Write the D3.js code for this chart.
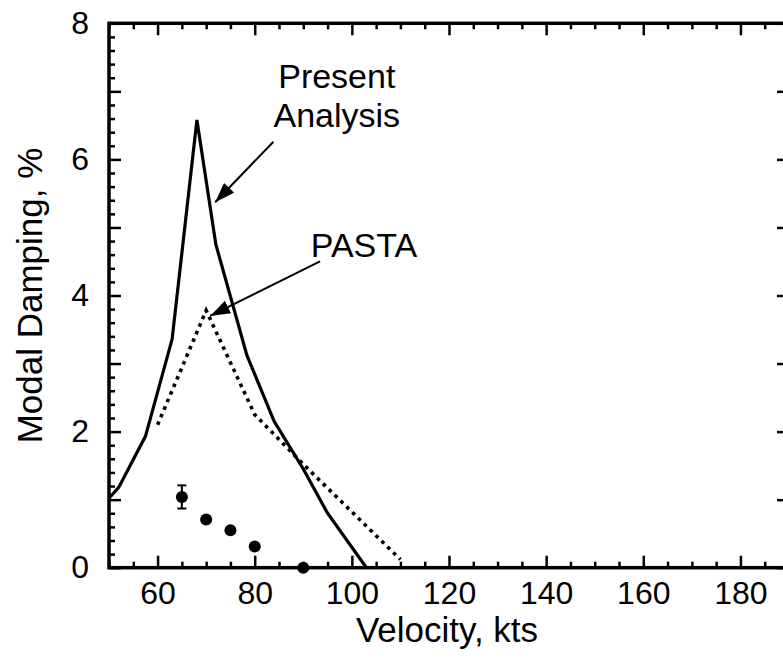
<!DOCTYPE html>
<html>
<head>
<meta charset="utf-8">
<script src="https://cdn.jsdelivr.net/npm/d3@7"></script>
<style>
  html, body { margin: 0; padding: 0; background: #fff; }
  svg { display: block; font-family: "Liberation Sans", Arial, Helvetica, sans-serif; }
</style>
</head>
<body>
<svg id="chart" width="783" height="658"></svg>
<script>
// ---- data ----
const presentVelocity = [50, 52, 57.5, 63, 68.1, 72, 78.4, 84, 90, 95, 103];
const presentDamping  = [1.02, 1.18, 1.93, 3.36, 6.58, 4.75, 3.12, 2.15, 1.45, 0.8, 0];
const pastaVelocity   = [60, 70, 80, 90, 110];
const pastaDamping    = [2.1, 3.78, 2.25, 1.52, 0.12];
const testVelocity    = [65, 70, 75, 80, 90];
const testDamping     = [1.04, 0.71, 0.55, 0.31, 0.0];
const testError       = [0.17, 0, 0, 0, 0];
const xTickLabels     = [60, 80, 100, 120, 140, 160, 180];
const yTickLabels     = [0, 2, 4, 6, 8];
const annotations = [
  { lines: ["Present", "Analysis"], x: 96.9, y: 7.045, from: [83.85, 6.26], to: [71.86, 5.37] },
  { lines: ["PASTA"], x: 102.5, y: 4.57, from: [93.45, 4.50], to: [70.83, 3.70] }
];

// ---- layout ----
const svg = d3.select("#chart");
const x = d3.scaleLinear().domain([50, 190]).range([109, 789]);
const y = d3.scaleLinear().domain([0, 8]).range([567.7, 23.3]);

const major = 12, minor = 6;
const xMinor = d3.range(50, 190.001, 5).filter(v => v % 20 !== 0);
const xMajor = d3.range(60, 190, 20);
const yMinor = d3.range(0, 41).map(i => i * 0.2).filter(v => Math.abs(v - Math.round(v)) > 1e-6);
const yMajor = d3.range(0, 9);

function styleAxis(g) {
  g.select(".domain").remove();
  g.selectAll(".tick line").attr("stroke", "#000").attr("stroke-width", 2.5);
  g.selectAll(".tick text").attr("fill", "#000");
}

// bottom axis
svg.append("g").attr("transform", `translate(0,${y(0)})`)
  .call(d3.axisBottom(x).tickValues(xMinor).tickSizeInner(-minor).tickSizeOuter(0).tickFormat(""))
  .call(styleAxis);
svg.append("g").attr("transform", `translate(0,${y(0)})`)
  .call(d3.axisBottom(x).tickValues(xMajor).tickSizeInner(-major).tickSizeOuter(0).tickPadding(14).tickFormat(d3.format("d")))
  .call(styleAxis)
  .call(g => g.selectAll(".tick").filter(d => !xTickLabels.includes(d)).select("text").remove())
  .call(g => g.selectAll("text").attr("font-size", 32).attr("font-family", null));
// top axis
svg.append("g").attr("transform", `translate(0,${y(8)})`)
  .call(d3.axisTop(x).tickValues(xMinor).tickSizeInner(-minor).tickSizeOuter(0).tickFormat(""))
  .call(styleAxis);
svg.append("g").attr("transform", `translate(0,${y(8)})`)
  .call(d3.axisTop(x).tickValues(xMajor).tickSizeInner(-major).tickSizeOuter(0).tickFormat(""))
  .call(styleAxis);
// left axis
svg.append("g").attr("transform", `translate(${x(50)},0)`)
  .call(d3.axisLeft(y).tickValues(yMinor).tickSizeInner(-minor).tickSizeOuter(0).tickFormat(""))
  .call(styleAxis);
svg.append("g").attr("transform", `translate(${x(50)},0)`)
  .call(d3.axisLeft(y).tickValues(yMajor).tickSizeInner(-major).tickSizeOuter(0).tickPadding(20).tickFormat(d3.format("d")))
  .call(styleAxis)
  .call(g => g.selectAll(".tick").filter(d => !yTickLabels.includes(d)).select("text").remove())
  .call(g => g.selectAll("text").attr("font-size", 32).attr("font-family", null));
// right axis
svg.append("g").attr("transform", `translate(${x(190)},0)`)
  .call(d3.axisRight(y).tickValues(yMinor).tickSizeInner(-minor).tickSizeOuter(0).tickFormat(""))
  .call(styleAxis);
svg.append("g").attr("transform", `translate(${x(190)},0)`)
  .call(d3.axisRight(y).tickValues(yMajor).tickSizeInner(-major).tickSizeOuter(0).tickFormat(""))
  .call(styleAxis);

// frame
svg.append("rect")
  .attr("x", x(50)).attr("y", y(8))
  .attr("width", x(190) - x(50)).attr("height", y(0) - y(8))
  .attr("fill", "none").attr("stroke", "#000").attr("stroke-width", 3.5);

// axis titles
svg.append("text").attr("x", (x(50) + x(190)) / 2 - 2).attr("y", 642)
  .attr("text-anchor", "middle").attr("font-size", 35).text("Velocity, kts");
svg.append("text").attr("transform", `translate(42,${(y(0) + y(8)) / 2}) rotate(-90)`)
  .attr("text-anchor", "middle").attr("font-size", 35).text("Modal Damping, %");

// lines
const line = d3.line().x(d => x(d[0])).y(d => y(d[1]));

svg.append("path")
  .datum(presentVelocity.map((v, i) => [v, presentDamping[i]]))
  .attr("d", line).attr("fill", "none").attr("stroke", "#000")
  .attr("stroke-width", 3.2).attr("stroke-linejoin", "miter");

svg.append("path")
  .datum(pastaVelocity.map((v, i) => [v, pastaDamping[i]]))
  .attr("d", line).attr("fill", "none").attr("stroke", "#000")
  .attr("stroke-width", 3.6).attr("stroke-dasharray", "3.6,4.6");

// test data points with error bars
const pts = testVelocity.map((v, i) => ({ v, d: testDamping[i], e: testError[i] }));
const eb = svg.append("g");
pts.filter(p => p.e > 0).forEach(p => {
  eb.append("line").attr("x1", x(p.v)).attr("x2", x(p.v)).attr("y1", y(p.d - p.e)).attr("y2", y(p.d + p.e))
    .attr("stroke", "#000").attr("stroke-width", 2);
  [p.d - p.e, p.d + p.e].forEach(val => {
    eb.append("line").attr("x1", x(p.v) - 4.5).attr("x2", x(p.v) + 4.5).attr("y1", y(val)).attr("y2", y(val))
      .attr("stroke", "#000").attr("stroke-width", 2);
  });
});
svg.append("g").selectAll("circle").data(pts).join("circle")
  .attr("cx", p => x(p.v)).attr("cy", p => y(p.d)).attr("r", 6).attr("fill", "#000");

// annotations
svg.append("defs").append("marker").attr("id", "arrowhead")
  .attr("viewBox", "0 0 20 14").attr("refX", 20).attr("refY", 7)
  .attr("markerWidth", 20).attr("markerHeight", 14).attr("markerUnits", "userSpaceOnUse")
  .attr("orient", "auto")
  .append("path").attr("d", "M0,0 L20,7 L0,14 Z").attr("fill", "#000");

annotations.forEach(a => {
  const t = svg.append("text").attr("text-anchor", "middle").attr("font-size", 34);
  a.lines.forEach((ln, i) => {
    t.append("tspan").attr("x", x(a.x)).attr("y", y(a.y) + i * 39).text(ln);
  });
  svg.append("line")
    .attr("x1", x(a.from[0])).attr("y1", y(a.from[1]))
    .attr("x2", x(a.to[0])).attr("y2", y(a.to[1]))
    .attr("stroke", "#000").attr("stroke-width", 2).attr("marker-end", "url(#arrowhead)");
});
</script>
</body>
</html>
